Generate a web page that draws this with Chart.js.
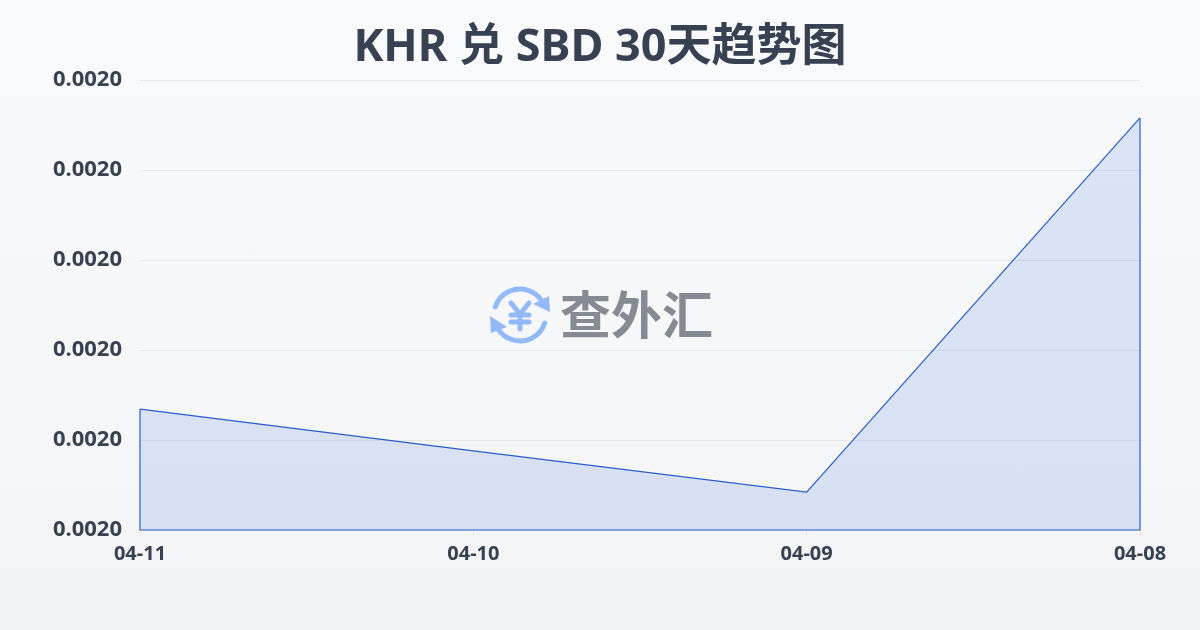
<!DOCTYPE html>
<html>
<head>
<meta charset="utf-8">
<script src="https://cdn.jsdelivr.net/npm/chart.js@4/dist/chart.umd.min.js"></script>
<style>
  html, body { margin: 0; padding: 0; }
  body { width: 1200px; height: 630px; overflow: hidden; background: linear-gradient(180deg, #f8fafc 0%, #f3f4f6 100%); }
  #wrap { width: 1200px; height: 630px; position: relative; }
</style>
</head>
<body>
<div id="wrap"><canvas id="c" width="1200" height="630"></canvas></div>
<script>
const titleText = "KHR 兑 SBD 30天趋势图";
const logoText = "查外汇";
const labels = ["04-11", "04-10", "04-09", "04-08"];
const rates = [0.0019815, 0.00197405, 0.00196675, 0.00203325];
const yMin = 0.00196;
const yMax = 0.00204;
const yStep = 0.000016;

const font = '"Noto Sans", "Noto Sans CJK SC", sans-serif';
const inkColor = "#374151";
const lineColor = "#2b5cc8";

// closes the area with a thin outline, sides and bottom
const outline = {
  id: "outline",
  afterDatasetsDraw(chart) {
    const pts = chart.getDatasetMeta(0).data;
    const first = pts[0], last = pts[pts.length - 1];
    const bottom = chart.scales.y.bottom;
    const ctx = chart.ctx;
    ctx.save();
    ctx.strokeStyle = lineColor;
    ctx.lineWidth = 1.2;
    ctx.beginPath();
    ctx.moveTo(first.x, first.y);
    ctx.lineTo(first.x, bottom);
    ctx.lineTo(last.x, bottom);
    ctx.lineTo(last.x, last.y);
    ctx.stroke();
    ctx.restore();
  }
};

// logo in the middle of the plot
const watermark = {
  id: "watermark",
  afterDatasetsDraw(chart) {
    const ctx = chart.ctx;
    const cx = 520, cy = 315;
    ctx.save();
    ctx.strokeStyle = "#93b9f8";
    ctx.fillStyle = "#93b9f8";
    ctx.lineWidth = 5;
    ctx.lineCap = "round";
    ctx.beginPath();
    ctx.arc(cx, cy, 26, Math.PI * 1.1, Math.PI * 1.8);
    ctx.stroke();
    ctx.beginPath();
    ctx.arc(cx, cy, 26, Math.PI * 0.1, Math.PI * 0.8);
    ctx.stroke();
    ctx.beginPath();
    ctx.moveTo(550, 312); ctx.lineTo(549, 296); ctx.lineTo(533, 304);
    ctx.closePath(); ctx.fill();
    ctx.beginPath();
    ctx.moveTo(490, 316); ctx.lineTo(491, 333); ctx.lineTo(507, 327);
    ctx.closePath(); ctx.fill();
    ctx.lineWidth = 5;
    ctx.beginPath();
    ctx.moveTo(511, 303); ctx.lineTo(520, 314); ctx.lineTo(529, 303);
    ctx.moveTo(520, 314); ctx.lineTo(520, 329);
    ctx.moveTo(511, 315); ctx.lineTo(529, 315);
    ctx.moveTo(511, 322); ctx.lineTo(529, 322);
    ctx.stroke();
    ctx.fillStyle = "#858a93";
    ctx.font = "bold 51px " + font;
    ctx.textAlign = "left";
    ctx.textBaseline = "middle";
    ctx.fillText(logoText, 560, 319);
    ctx.restore();
  }
};

new Chart(document.getElementById("c"), {
  type: "line",
  data: {
    labels: labels,
    datasets: [{
      data: rates,
      borderColor: lineColor,
      borderWidth: 1.2,
      backgroundColor: "rgba(59,110,220,0.15)",
      fill: "start",
      tension: 0,
      pointRadius: 0
    }]
  },
  options: {
    responsive: false,
    animation: false,
    plugins: {
      legend: { display: false },
      tooltip: { enabled: false },
      title: {
        display: true,
        text: titleText,
        color: inkColor,
        font: { family: font, size: 45, weight: "bold" },
        padding: { top: 21, bottom: 5 }
      }
    },
    scales: {
      x: {
        offset: false,
        grid: { drawOnChartArea: false, color: "#eee8d8", tickLength: 6 },
        border: { display: false },
        ticks: { color: inkColor, font: { family: font, size: 20, weight: "bold" }, padding: 6, maxRotation: 0 },
        afterFit(scale) { scale.height = 100; }
      },
      y: {
        min: yMin,
        max: yMax,
        grid: { color: "#e5e7eb", lineWidth: 1, drawTicks: false },
        border: { display: false },
        afterFit(scale) { scale.width = 140; },
        afterBuildTicks(scale) {
          scale.ticks = [0, 1, 2, 3, 4, 5].map(i => ({ value: yMin + i * yStep }));
        },
        ticks: {
          color: inkColor,
          font: { family: font, size: 22, weight: "bold" },
          padding: 18,
          callback: v => v.toFixed(4)
        }
      },
      // empty axis, keeps the right margin while the title stays centred on the page
      spacer: {
        position: "right",
        grid: { drawOnChartArea: false, drawTicks: false },
        border: { display: false },
        ticks: { display: false },
        afterFit(scale) { scale.width = 60; }
      }
    }
  },
  plugins: [outline, watermark]
});
</script>
</body>
</html>
